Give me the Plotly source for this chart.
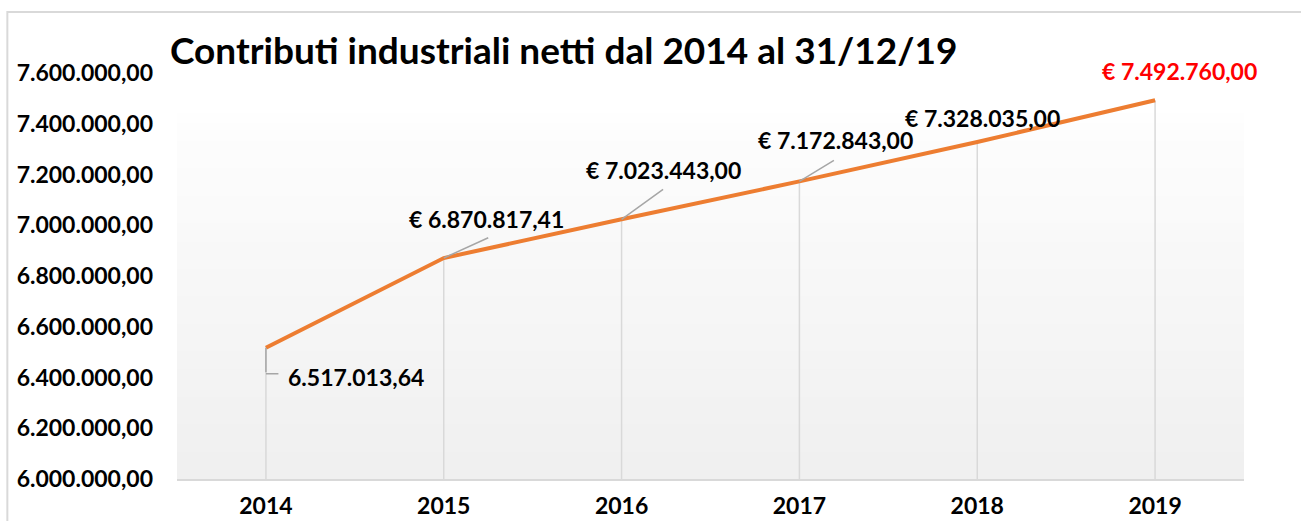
import plotly.graph_objects as go

# data
years = [2014, 2015, 2016, 2017, 2018, 2019]
contributi = [6517013.64, 6870817.41, 7023443.00, 7172843.00, 7328035.00, 7492760.00]
y_min = 6000000
y_max = 7600000
y_step = 200000

title = "Contributi industriali netti dal 2014 al 31/12/19"

# label offsets (px) from each point, and leader line tails
label_shift = [(90, -29), (43, 39), (42, 49), (36, 41), (5, 24), (24, 29)]
leader_tail = [None, (46, -21), (43, -31), (36, -22), None, None]

FONT = "Lato"
ORANGE = "#ed7d31"
GRID = "#d9d9d9"


def fmt_it(v):
    s = f"{v:,.2f}"
    return s.replace(",", "X").replace(".", ",").replace("X", ".")


fig = go.Figure()

# drop lines from each point down to the axis
fig.add_trace(go.Scatter(
    x=years,
    y=contributi,
    mode="markers",
    marker=dict(size=0.1, color="rgba(0,0,0,0)"),
    error_y=dict(
        type="data",
        symmetric=False,
        array=[0] * len(contributi),
        arrayminus=[v - y_min for v in contributi],
        color=GRID,
        thickness=1.5,
        width=0
    ),
    hoverinfo="skip",
    showlegend=False
))

fig.add_trace(go.Scatter(
    x=years,
    y=contributi,
    mode="lines",
    line=dict(color=ORANGE, width=4),
    showlegend=False
))

# data labels
for i, (yr, v) in enumerate(zip(years, contributi)):
    txt = fmt_it(v) if i == 0 else "€ " + fmt_it(v)
    color = "#ff0000" if i == len(years) - 1 else "#000000"
    dx, dy = label_shift[i]
    fig.add_annotation(
        x=yr, y=v, text=txt, showarrow=False,
        xshift=dx, yshift=dy,
        font=dict(family=FONT, size=23, color=color, weight="bold")
    )
    if leader_tail[i] is not None:
        ax, ay = leader_tail[i]
        fig.add_annotation(
            x=yr, y=v, text="", showarrow=True, arrowhead=0,
            ax=ax, ay=ay, arrowwidth=1.5, arrowcolor="#a6a6a6", standoff=0
        )

# L shaped leader for the first point
fig.add_annotation(x=years[0], y=contributi[0], text="", showarrow=True,
                   arrowhead=0, ax=0, ay=26, arrowwidth=1.5,
                   arrowcolor="#a6a6a6")
fig.add_annotation(x=years[0], y=contributi[0], text="", showarrow=True,
                   arrowhead=0, ax=14, ay=0, yshift=-26, arrowwidth=1.5,
                   arrowcolor="#a6a6a6")

# soft vertical gradient behind the plot area
n_bands = 40
for k in range(n_bands):
    g = int(240 + (254 - 240) * k / (n_bands - 1))
    fig.add_shape(
        type="rect", xref="paper", yref="paper",
        x0=0, x1=1, y0=0.9 * k / n_bands, y1=0.9 * (k + 1) / n_bands + 0.002,
        fillcolor=f"rgb({g},{g},{g})", line=dict(width=0), layer="below"
    )

# outer chart border
fig.add_shape(
    type="rect", xref="paper", yref="paper",
    x0=-0.159, x1=1.2, y0=-0.3, y1=1.15,
    line=dict(color=GRID, width=2), fillcolor="rgba(0,0,0,0)", layer="below"
)

fig.add_annotation(
    text=title, xref="paper", yref="paper", x=-0.008, y=1.057,
    xanchor="left", yanchor="middle", showarrow=False,
    font=dict(family=FONT, size=37, color="#000000", weight="bold")
)

fig.update_layout(
    width=1301,
    height=521,
    margin=dict(l=177, r=57, t=73, b=42),
    paper_bgcolor="white",
    plot_bgcolor="white",
    separators=",.",
    font=dict(family=FONT, color="#000000"),
    xaxis=dict(
        range=[2013.5, 2019.5],
        tickvals=years,
        tickformat="d",
        showgrid=False,
        zeroline=False,
        showline=True,
        linecolor=GRID,
        linewidth=2,
        ticks="",
        automargin=False,
        ticklabelstandoff=5,
        tickfont=dict(family=FONT, size=23, weight="bold")
    ),
    yaxis=dict(
        range=[y_min, y_max],
        dtick=y_step,
        tickformat=",.2f",
        showgrid=False,
        zeroline=False,
        showline=False,
        automargin=False,
        ticklabelstandoff=23,
        tickfont=dict(family=FONT, size=23, weight="bold")
    )
)

page_fix = (
    "document.documentElement.style.overflow='hidden';"
    "document.body.style.margin='0';"
    "document.body.style.overflow='hidden';"
    "var gd=document.getElementById('{plot_id}');"
    "gd.parentElement.style.height='521px';"
    "gd.parentElement.style.overflow='hidden';"
)

fig.write_html(
    "out.html",
    config={"displayModeBar": False},
    post_script=page_fix
)
